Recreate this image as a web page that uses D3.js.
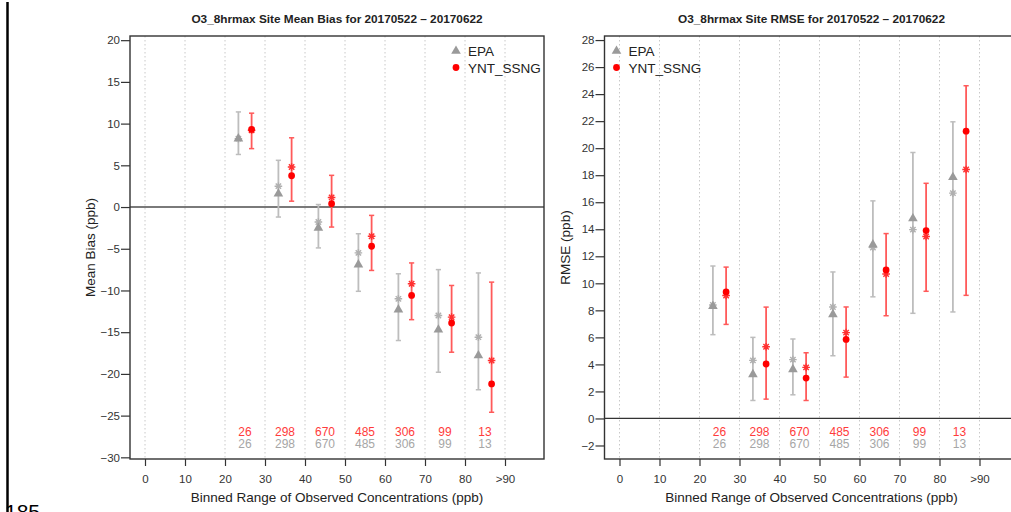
<!DOCTYPE html>
<html>
<head>
<meta charset="utf-8">
<script src="https://cdn.jsdelivr.net/npm/d3@7/dist/d3.min.js"></script>
<style>
  html, body { margin: 0; padding: 0; background: #fff; }
  svg { display: block; font-family: "Liberation Sans", Arial, Helvetica, sans-serif; }
</style>
</head>
<body>
<svg id="chart" width="1011" height="512"></svg>
<script>
// Bin centres (ppb) and station counts per bin
const binCenters = [25, 35, 45, 55, 65, 75, 85];
const countsEPA = [26, 298, 670, 485, 306, 99, 13];
const countsYNT = [26, 298, 670, 485, 306, 99, 13];

// x-axis ticks
const xTickValues = [0, 10, 20, 30, 40, 50, 60, 70, 80, 90];
const xTickLabels = ["0", "10", "20", "30", "40", "50", "60", "70", "80", ">90"];

// Mean bias (ppb) per bin
const biasEPAMean   = [8.2, 1.6, -2.5, -6.9, -12.3, -14.7, -17.8];
const biasEPAMedian = [8.2, 2.5, -1.8, -5.5, -11.0, -13.0, -15.6];
const biasEPALow    = [6.3, -1.2, -4.9, -10.1, -16.0, -19.8, -21.9];
const biasEPAHigh   = [11.4, 5.6, 0.3, -3.2, -8.0, -7.5, -7.9];
const biasYNTMean   = [9.3, 3.75, 0.4, -4.7, -10.6, -13.9, -21.2];
const biasYNTMedian = [9.2, 4.8, 1.15, -3.5, -9.2, -13.2, -18.4];
const biasYNTLow    = [7.0, 0.7, -2.4, -7.6, -13.5, -17.4, -24.6];
const biasYNTHigh   = [11.25, 8.3, 3.8, -1.0, -6.7, -9.4, -9.0];

// RMSE (ppb) per bin
const rmseEPAMean   = [8.3, 3.26, 3.63, 7.7, 12.86, 14.8, 17.85];
const rmseEPAMedian = [8.4, 4.3, 4.35, 8.25, 12.64, 13.97, 16.67];
const rmseEPALow    = [6.2, 1.33, 1.75, 4.64, 9.0, 7.78, 7.88];
const rmseEPAHigh   = [11.28, 6.0, 5.88, 10.84, 16.1, 19.68, 21.95];
const rmseYNTMean   = [9.36, 4.03, 2.99, 5.85, 10.99, 13.9, 21.26];
const rmseYNTMedian = [9.1, 5.31, 3.78, 6.35, 10.69, 13.46, 18.42];
const rmseYNTLow    = [6.96, 1.43, 1.33, 3.06, 7.6, 9.41, 9.11];
const rmseYNTHigh   = [11.2, 8.24, 4.86, 8.25, 13.68, 17.4, 24.62];

// y-axis ticks
const biasYTicks = [-30, -25, -20, -15, -10, -5, 0, 5, 10, 15, 20];
const rmseYTicks = [-2, 0, 2, 4, 6, 8, 10, 12, 14, 16, 18, 20, 22, 24, 26, 28];

const seriesNames = ["EPA", "YNT_SSNG"];

const svg = d3.select("#chart");

const COL = {
  epaMark: "#9a9a9a",
  epaBar: "#bdbdbd",
  epaStar: "#b0b0b0",
  yntMark: "#ff0000",
  yntBar: "#ff5a5a",
  yntStar: "#ff3030",
  cntYNT: "#ff3b3b",
  cntEPA: "#a6a6a6",
  axis: "#333333",
  text: "#333333",
  grid: "#c8c8c8"
};

// Page margin rule and label at the lower-left edge
svg.append("line")
  .attr("x1", 7.5).attr("x2", 7.5).attr("y1", 2).attr("y2", 512)
  .attr("stroke", "#000").attr("stroke-width", 2.5);
svg.append("text")
  .attr("x", 5).attr("y", 519)
  .attr("font-size", 21).attr("fill", "#000")
  .text("185");

function asteriskPath(r) {
  const d = r * 0.7071;
  return `M${-r},0L${r},0M0,${-r}L0,${r}M${-d},${-d}L${d},${d}M${-d},${d}L${d},${-d}`;
}

function drawPanel(opts) {
  const { left, right, top, bottom, yDomain, yTicks, title, yLabel,
          epa, ynt, zeroColor, zeroWidth, legendX } = opts;
  const g = svg.append("g");

  const x = d3.scaleLinear().domain([-3.75, 99.75]).range([left, right]);
  const y = d3.scaleLinear().domain(yDomain).range([bottom, top]);

  // vertical dotted grid
  g.append("g").selectAll("line").data(xTickValues).join("line")
    .attr("x1", d => x(d)).attr("x2", d => x(d))
    .attr("y1", top).attr("y2", bottom)
    .attr("stroke", COL.grid).attr("stroke-width", 1)
    .attr("stroke-dasharray", "1.5,2.5");

  // zero reference line
  g.append("line")
    .attr("x1", left).attr("x2", right)
    .attr("y1", y(0)).attr("y2", y(0))
    .attr("stroke", zeroColor).attr("stroke-width", zeroWidth);

  // x axis (ticks below the frame)
  const xAxis = d3.axisBottom(x)
    .tickValues(xTickValues)
    .tickFormat((d, i) => xTickLabels[i])
    .tickSize(7).tickPadding(9);
  const gx = g.append("g").attr("transform", `translate(0,${bottom})`).call(xAxis);
  gx.select(".domain").remove();
  gx.selectAll("line").attr("stroke", COL.axis).attr("stroke-width", 1.2);
  gx.selectAll("text").attr("font-size", 11.5).attr("fill", COL.text)
    .attr("font-family", "Liberation Sans, Arial, sans-serif");

  // y axis
  const yAxis = d3.axisLeft(y).tickValues(yTicks)
    .tickFormat(d => d < 0 ? "\u2212" + Math.abs(d) : d)
    .tickSize(9).tickPadding(1);
  const gy = g.append("g").attr("transform", `translate(${left},0)`).call(yAxis);
  gy.select(".domain").remove();
  gy.selectAll("line").attr("stroke", COL.axis).attr("stroke-width", 1.2);
  gy.selectAll("text").attr("font-size", 11.5).attr("fill", COL.text)
    .attr("font-family", "Liberation Sans, Arial, sans-serif");

  // frame
  g.append("rect")
    .attr("x", left).attr("y", top)
    .attr("width", right - left).attr("height", bottom - top)
    .attr("fill", "none").attr("stroke", COL.axis).attr("stroke-width", 1.4);

  // title
  g.append("text")
    .attr("x", (left + right) / 2).attr("y", 23)
    .attr("text-anchor", "middle").attr("font-size", 11.8)
    .attr("font-weight", "bold").attr("fill", "#222")
    .text(title);

  // axis titles
  g.append("text")
    .attr("x", (left + right) / 2).attr("y", 502)
    .attr("text-anchor", "middle").attr("font-size", 13.5).attr("fill", "#222")
    .text("Binned Range of Observed Concentrations (ppb)");
  g.append("text")
    .attr("transform", `translate(${left - 35},${(top + bottom) / 2}) rotate(-90)`)
    .attr("text-anchor", "middle").attr("font-size", 13.5).attr("fill", "#222")
    .text(yLabel);

  // series
  const series = [
    { d: epa, off: -1.65, bar: COL.epaBar, mark: COL.epaMark, star: COL.epaStar, shape: d3.symbolTriangle },
    { d: ynt, off: 1.65, bar: COL.yntBar, mark: COL.yntMark, star: COL.yntStar, shape: d3.symbolCircle }
  ];
  series.forEach(s => {
    const sg = g.append("g");
    binCenters.forEach((c, i) => {
      const cx = x(c + s.off);
      const yl = y(s.d.low[i]), yh = y(s.d.high[i]);
      sg.append("line").attr("x1", cx).attr("x2", cx).attr("y1", yl).attr("y2", yh)
        .attr("stroke", s.bar).attr("stroke-width", 1.8);
      [yl, yh].forEach(yy => sg.append("line")
        .attr("x1", cx - 2.6).attr("x2", cx + 2.6).attr("y1", yy).attr("y2", yy)
        .attr("stroke", s.bar).attr("stroke-width", 1.5));
      sg.append("path")
        .attr("transform", `translate(${cx},${y(s.d.median[i])})`)
        .attr("d", asteriskPath(3.8))
        .attr("stroke", s.star).attr("stroke-width", 1.4).attr("fill", "none");
      sg.append("path")
        .attr("transform", `translate(${cx},${y(s.d.mean[i])})`)
        .attr("d", d3.symbol().type(s.shape).size(s.shape === d3.symbolCircle ? 36 : 40)())
        .attr("fill", s.mark);
    });
  });

  // sample counts per bin
  const cg = g.append("g").attr("font-size", 12).attr("text-anchor", "middle");
  cg.selectAll("text.ynt").data(countsYNT).join("text")
    .attr("class", "ynt")
    .attr("x", (d, i) => x(binCenters[i])).attr("y", bottom - 23.5)
    .attr("fill", COL.cntYNT).text(d => d);
  cg.selectAll("text.epa").data(countsEPA).join("text")
    .attr("class", "epa")
    .attr("x", (d, i) => x(binCenters[i])).attr("y", bottom - 11.5)
    .attr("fill", COL.cntEPA).text(d => d);

  // legend
  const lg = g.append("g").attr("transform", `translate(${legendX},0)`);
  lg.append("path").attr("transform", "translate(0,51)")
    .attr("d", d3.symbol().type(d3.symbolTriangle).size(40)()).attr("fill", COL.epaMark);
  lg.append("path").attr("transform", "translate(0,67.5)")
    .attr("d", d3.symbol().type(d3.symbolCircle).size(36)()).attr("fill", COL.yntMark);
  lg.append("text").attr("x", 12).attr("y", 56).attr("font-size", 13.5)
    .attr("fill", "#222").text(seriesNames[0]);
  lg.append("text").attr("x", 12).attr("y", 72.5).attr("font-size", 13.5)
    .attr("fill", "#222").text(seriesNames[1]);
}

drawPanel({
  left: 130, right: 544, top: 36, bottom: 459,
  yDomain: [-30.2, 20.5], yTicks: biasYTicks,
  title: "O3_8hrmax Site Mean Bias for 20170522 \u2013 20170622",
  yLabel: "Mean Bias (ppb)",
  epa: { mean: biasEPAMean, median: biasEPAMedian, low: biasEPALow, high: biasEPAHigh },
  ynt: { mean: biasYNTMean, median: biasYNTMedian, low: biasYNTLow, high: biasYNTHigh },
  zeroColor: "#7a7a7a", zeroWidth: 2, legendX: 456
});

drawPanel({
  left: 604.5, right: 1018.5, top: 36, bottom: 459,
  yDomain: [-3.0, 28.3], yTicks: rmseYTicks,
  title: "O3_8hrmax Site RMSE for 20170522 \u2013 20170622",
  yLabel: "RMSE (ppb)",
  epa: { mean: rmseEPAMean, median: rmseEPAMedian, low: rmseEPALow, high: rmseEPAHigh },
  ynt: { mean: rmseYNTMean, median: rmseYNTMedian, low: rmseYNTLow, high: rmseYNTHigh },
  zeroColor: "#333333", zeroWidth: 1.3, legendX: 616.5
});
</script>
</body>
</html>
